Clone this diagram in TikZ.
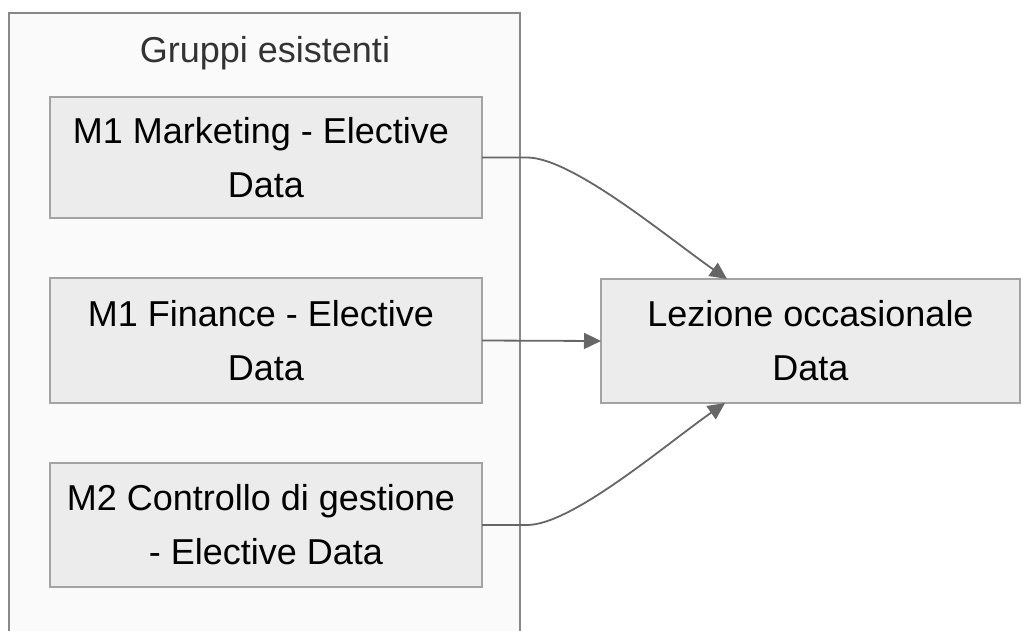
\documentclass[tikz,border=0pt]{standalone}
\usepackage{fontspec}
\setmainfont{Liberation Sans}
\usetikzlibrary{arrows.meta,calc}
\definecolor{groupfill}{HTML}{FAFAFA}
\definecolor{groupline}{HTML}{888888}
\definecolor{boxfill}{HTML}{ECECEC}
\definecolor{boxline}{HTML}{A3A3A3}
\definecolor{edgecol}{HTML}{666666}
\definecolor{titlecol}{HTML}{333333}
\tikzset{
  groupbox/.style={draw=groupline, fill=groupfill, line width=1.8pt},
  itembox/.style={draw=boxline, fill=boxfill, line width=2pt, rectangle,
    align=center, inner sep=0pt, outer sep=0pt,
    font=\fontsize{36pt}{54pt}\selectfont},
  link/.style={draw=edgecol, line width=1.8pt,
    -{Triangle[length=17pt,width=16pt]}},
}
\newcommand{\trailsp}{\makebox[.278em]{}}
\begin{document}
\begin{tikzpicture}[x=1pt,y=-1pt]
  \useasboundingbox (0,0) rectangle (1021,630);
  % group frame (runs past the lower edge)
  \path[groupbox] (9,13) rectangle (520,660);
  \node[text=titlecol, font=\fontsize{36pt}{54pt}\selectfont, anchor=base]
    (title) at (265,62) {Gruppi esistenti};
  % items of the group
  \node[itembox, minimum width=432pt, minimum height=121pt] (mkt) at (266,157.5)
    {M1 Marketing - Elective\trailsp\\Data};
  \node[itembox, minimum width=432pt, minimum height=125pt] (fin) at (266,340.5)
    {M1 Finance - Elective\trailsp\\Data};
  \node[itembox, minimum width=432pt, minimum height=124pt] (ctl) at (266,525)
    {M2 Controllo di gestione\trailsp\\- Elective Data};
  % target lesson
  \node[itembox, minimum width=419pt, minimum height=124pt] (lez) at (810.5,341)
    {Lezione occasionale\\Data};
  \coordinate (topin) at ($(lez.north west)+(126,0)$);
  \coordinate (botin) at ($(lez.south west)+(124,0)$);
  % connectors
  \draw[link] (mkt.east) -- ++(45,0)
    .. controls ++(45,0) and ($(topin)+(-60,-42)$) .. (topin);
  \draw[link] (fin.east) -- (lez.west);
  \draw[link] (ctl.east) -- ++(45,0)
    .. controls ++(45,0) and ($(botin)+(-60,42)$) .. (botin);
\end{tikzpicture}
\end{document}
